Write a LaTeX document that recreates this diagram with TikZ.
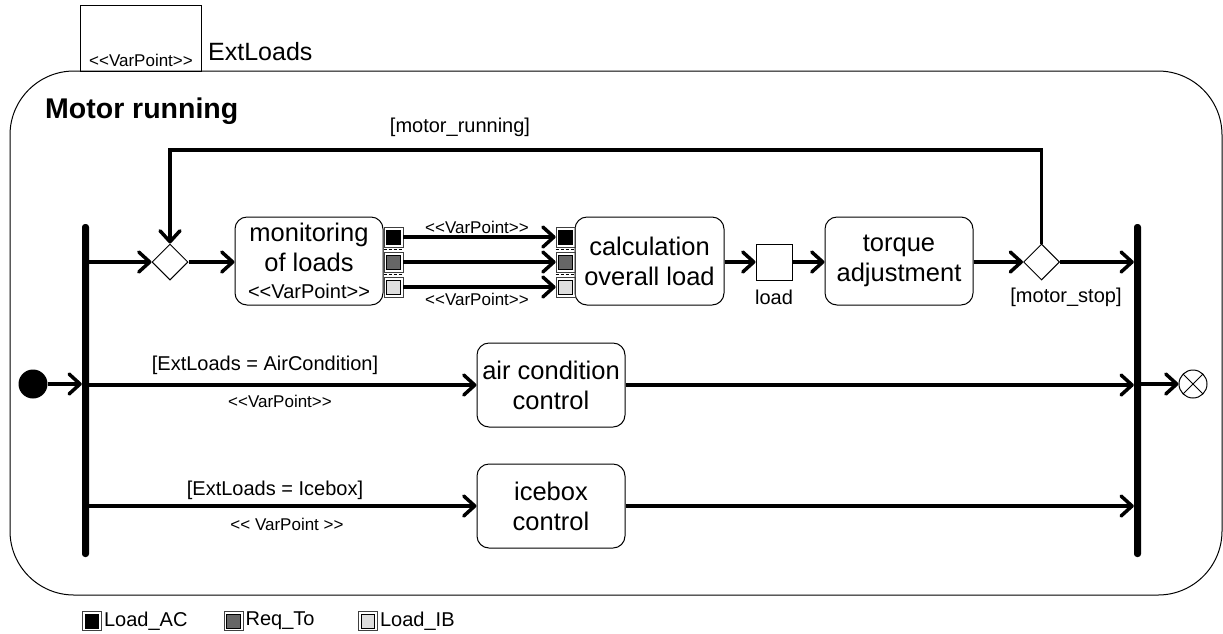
\documentclass[tikz,border=0pt]{standalone}
\usepackage{fontspec}
\setmainfont{Liberation Sans}
\usetikzlibrary{arrows.meta,shapes.geometric,calc}
\newcommand{\actfont}{\fontsize{25.5}{30}\selectfont}
\newcommand{\guardfont}{\fontsize{20}{24}\selectfont}
\newcommand{\stereofont}{\fontsize{17}{20}\selectfont}
\newcommand{\varpt}{<\kern0pt<VarPoint>\kern0pt>}
\begin{document}
\begin{tikzpicture}[x=1pt,y=-1pt,
  frame/.style={draw, line width=1pt},
  act/.style={draw, line width=1pt, rounded corners=12pt, align=center, inner sep=0pt, font=\actfont},
  flow/.style={line width=3.5pt, -{Straight Barb[length=11pt,width=20pt,round]}},
  bar/.style={fill=black, rounded corners=3pt, minimum width=7pt, inner sep=0pt},
  decision/.style={draw, diamond, line width=1pt, minimum width=36pt, minimum height=36pt, inner sep=0pt},
  objnode/.style={draw, line width=1pt, minimum size=36pt, inner sep=0pt},
  pinbox/.style={draw=black!75, line width=0.8pt, minimum width=19pt, minimum height=20pt, inner sep=0pt,
    path picture={\draw[black, line width=0.9pt, fill=#1]
      ([shift={(2.5pt,2.5pt)}]path picture bounding box.south west) rectangle
      ([shift={(-3pt,-3pt)}]path picture bounding box.north east);}},
  keybox/.style={pinbox=#1, minimum width=19pt, minimum height=19pt},
  sep/.style={line width=1.3pt, dash pattern=on 3pt off 2pt},
  guard/.style={font=\guardfont, inner sep=0pt},
  stereo/.style={font=\stereofont, inner sep=0pt},
  initnode/.style={circle, fill=black, minimum size=29pt, inner sep=0pt},
  finalnode/.style={circle, draw, line width=1pt, minimum size=28pt, inner sep=0pt,
    path picture={\draw[line width=1pt]
      (path picture bounding box.north west) -- (path picture bounding box.south east)
      (path picture bounding box.north east) -- (path picture bounding box.south west);}}
]
\useasboundingbox (0,0) rectangle (1223,633);

% activity frame and its variation point
\draw[frame, rounded corners=64pt] (10,71) rectangle (1222,595);
\node[frame, minimum width=121pt, minimum height=66pt, anchor=north west, inner sep=0pt] (vpbox) at (80,5) {};
\node[stereo, anchor=south] at ([yshift=5pt]vpbox.south) {\varpt};
\node[font=\fontsize{25}{30}\selectfont, anchor=base west, inner sep=0pt] (extloads) at (208,60) {ExtLoads};
\node[font=\fontsize{28.5}{34}\bfseries, anchor=base west, inner sep=0pt] (title) at (45,118) {Motor running};

% control nodes
\node[initnode] (init) at (33,384) {};
\node[bar, minimum height=333pt] (fork) at (85.5,390.5) {};
\node[bar, minimum height=333pt] (join) at (1137.5,390.5) {};
\node[finalnode] (fin) at (1193,384) {};
\node[decision] (dec1) at (170,262) {};
\node[decision] (dec2) at (1041.5,262) {};

% actions
\node[act, minimum width=148pt, minimum height=88pt] (mon) at (309,261)
  {monitoring\\of loads\\[-3pt]{\fontsize{20}{24}\selectfont\varpt}};
\node[act, minimum width=149pt, minimum height=88pt] (calc) at (649.5,261) {calculation\\overall load};
\node[objnode] (load) at (774,262) {};
\node[guard, anchor=center] at (774,297) {load};
\node[act, minimum width=148pt, minimum height=88pt] (torque) at (899,261) {torque\\adjustment};
\node[act, minimum width=148pt, minimum height=84pt] (air) at (551,385) {air condition\\control};
\node[act, minimum width=148pt, minimum height=84pt] (ice) at (551,506) {icebox\\control};

% output pins of monitoring, input pins of calculation
\node[pinbox=black] (po1) at (393.5,237) {};
\node[pinbox=black!60] (po2) at (393.5,262) {};
\node[pinbox=black!13] (po3) at (393.5,287) {};
\node[pinbox=black] (pi1) at (565.5,237) {};
\node[pinbox=black!60] (pi2) at (565.5,262) {};
\node[pinbox=black!13] (pi3) at (565.5,287) {};
\foreach \p in {po,pi}{
  \draw[sep] ($(\p1.south west)!.5!(\p2.north west)$) -- ($(\p1.south east)!.5!(\p2.north east)$);
  \draw[sep] ($(\p2.south west)!.5!(\p3.north west)$) -- ($(\p2.south east)!.5!(\p3.north east)$);
}

% flows
\draw[flow] (init) -- (init -| fork.west);
\draw[flow] (fork.east |- dec1) -- (dec1);
\draw[flow] (dec1) -- (dec1 -| mon.west);
\draw[flow] (po1.east) -- (pi1.west);
\draw[flow] (po2.east) -- (pi2.west);
\draw[flow] (po3.east) -- (pi3.west);
\draw[flow] (load -| calc.east) -- (load);
\draw[flow] (load) -- (load -| torque.west);
\draw[flow] (dec2 -| torque.east) -- (dec2);
\draw[flow] (dec2) -- (dec2 -| join.west);
\coordinate (looptop) at (1041.5,150);
\draw[flow] (dec2.north) -- (dec2.north |- looptop) -- (dec1.north |- looptop) -- (dec1.north);
\draw[flow] (fork.east |- air) -- (air);
\draw[flow] (air) -- (air -| join.west);
\draw[flow] (fork.east |- ice) -- (ice);
\draw[flow] (ice) -- (ice -| join.west);
\draw[flow] (join.east |- fin) -- (fin);

% guards and stereotypes on flows
\node[guard] at (460,127) {[motor\_running]};
\node[guard] at (1066,297) {[motor\_stop]};
\node[stereo] at (477,227) {\varpt};
\node[stereo] at (477,299) {\varpt};
\node[guard] at (265,365) {[ExtLoads = AirCondition]};
\node[stereo] at (280,401) {\varpt};
\node[guard] at (275,490) {[ExtLoads = Icebox]};
\node[stereo] at (287,524) {<\kern0pt< VarPoint >\kern0pt>};

% key of pin colours
\node[keybox=black] (k1) at (92,621) {};
\node[guard, anchor=west] at ([xshift=2pt]k1.east) {Load\_AC};
\node[keybox=black!60] (k2) at (233.5,621) {};
\node[guard, anchor=west] at ([xshift=2pt]k2.east) {Req\_To};
\node[keybox=black!13] (k3) at (368,621) {};
\node[guard, anchor=west] at ([xshift=2pt]k3.east) {Load\_IB};
\end{tikzpicture}
\end{document}
